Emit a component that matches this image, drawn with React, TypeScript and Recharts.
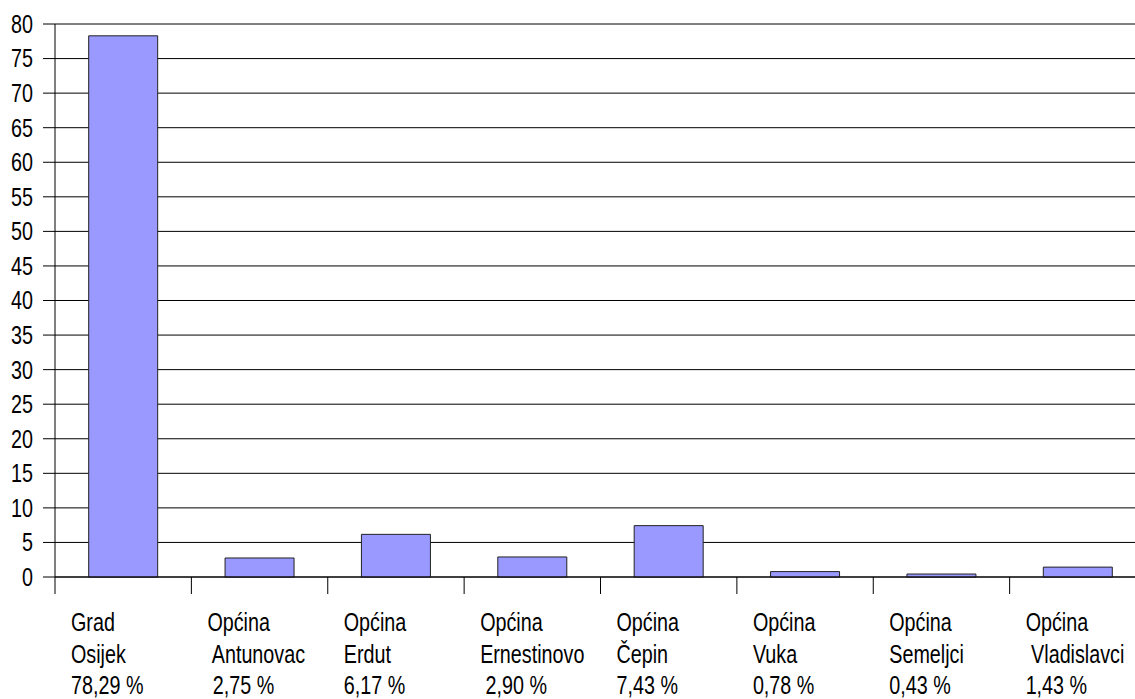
import React from "react";
import { BarChart, Bar, XAxis, YAxis, CartesianGrid } from "recharts";

const categories = [
  "Grad Osijek",
  "Općina Antunovac",
  "Općina Erdut",
  "Općina Ernestinovo",
  "Općina Čepin",
  "Općina Vuka",
  "Općina Semeljci",
  "Općina Vladislavci",
];
const shares = [78.29, 2.75, 6.17, 2.9, 7.43, 0.78, 0.43, 1.43];
const labelLine1 = ["Grad", "Općina", "Općina", "Općina", "Općina", "Općina", "Općina", "Općina"];
const labelLine2 = ["Osijek", " Antunovac", "Erdut", "Ernestinovo", "Čepin", "Vuka", "Semeljci", " Vladislavci"];
const percentLabels = ["78,29 %", " 2,75 %", "6,17 %", " 2,90 %", "7,43 %", "0,78 %", "0,43 %", "1,43 %"];
const yTicks = [0, 5, 10, 15, 20, 25, 30, 35, 40, 45, 50, 55, 60, 65, 70, 75, 80];

const data = categories.map((c, i) => ({ name: c, value: shares[i] }));

const FONT = "'Liberation Sans', Arial, sans-serif";
const SQUEEZE = 0.79;
const FS = 25;
const CHART_W = 1150;
const CHART_H = 699;
const MARGIN = { top: 24, right: 4, bottom: 0, left: 0 };
const Y_W = 55;
const BAND = (CHART_W - MARGIN.left - MARGIN.right - Y_W) / categories.length;

const XTick = (props: any) => {
  const { x, y, payload, index } = props;
  const half = payload && typeof payload.offset === "number" && payload.offset > 0 ? payload.offset : BAND / 2;
  const left = x - half;
  const lines = [labelLine1[index], labelLine2[index], percentLabels[index]];
  return (
    <g>
      <line x1={left} x2={left} y1={y} y2={y + 17} stroke="#000" strokeWidth={1} />
      {lines.map((t, i) => (
        <text
          key={i}
          transform={`translate(${left + 16},${y + 54 + i * 31.5}) scale(${SQUEEZE},1)`}
          x={0}
          y={0}
          fontSize={FS}
          fontFamily={FONT}
          fill="#000"
          textAnchor="start"
          style={{ whiteSpace: "pre" }}
        >
          {t}
        </text>
      ))}
    </g>
  );
};

const YTick = (props: any) => {
  const { x, y, payload } = props;
  return (
    <text
      transform={`translate(${x},${y}) scale(${SQUEEZE},1)`}
      x={0}
      y={0}
      dy="0.355em"
      fontSize={FS}
      fontFamily={FONT}
      fill="#000"
      textAnchor="end"
    >
      {payload.value}
    </text>
  );
};

export default function App() {
  return (
    <div style={{ position: "absolute", left: 0, top: 0, width: 1135, height: 699, overflow: "hidden", background: "#fff" }}>
      <BarChart width={CHART_W} height={CHART_H} data={data} margin={MARGIN} barCategoryGap="24.7%">
        <CartesianGrid horizontal={true} vertical={false} stroke="#000" strokeWidth={1} />
        <XAxis
          dataKey="name"
          height={CHART_H - 577}
          axisLine={{ stroke: "#000" }}
          tickLine={false}
          tickSize={0}
          tickMargin={0}
          interval={0}
          tick={<XTick />}
        />
        <YAxis
          domain={[0, 80]}
          ticks={yTicks}
          interval={0}
          width={Y_W}
          tickSize={12}
          tickMargin={10}
          axisLine={{ stroke: "#000" }}
          tickLine={{ stroke: "#000" }}
          tick={<YTick />}
        />
        <Bar dataKey="value" fill="#9999FF" stroke="#222" strokeWidth={1} isAnimationActive={false} />
      </BarChart>
    </div>
  );
}
